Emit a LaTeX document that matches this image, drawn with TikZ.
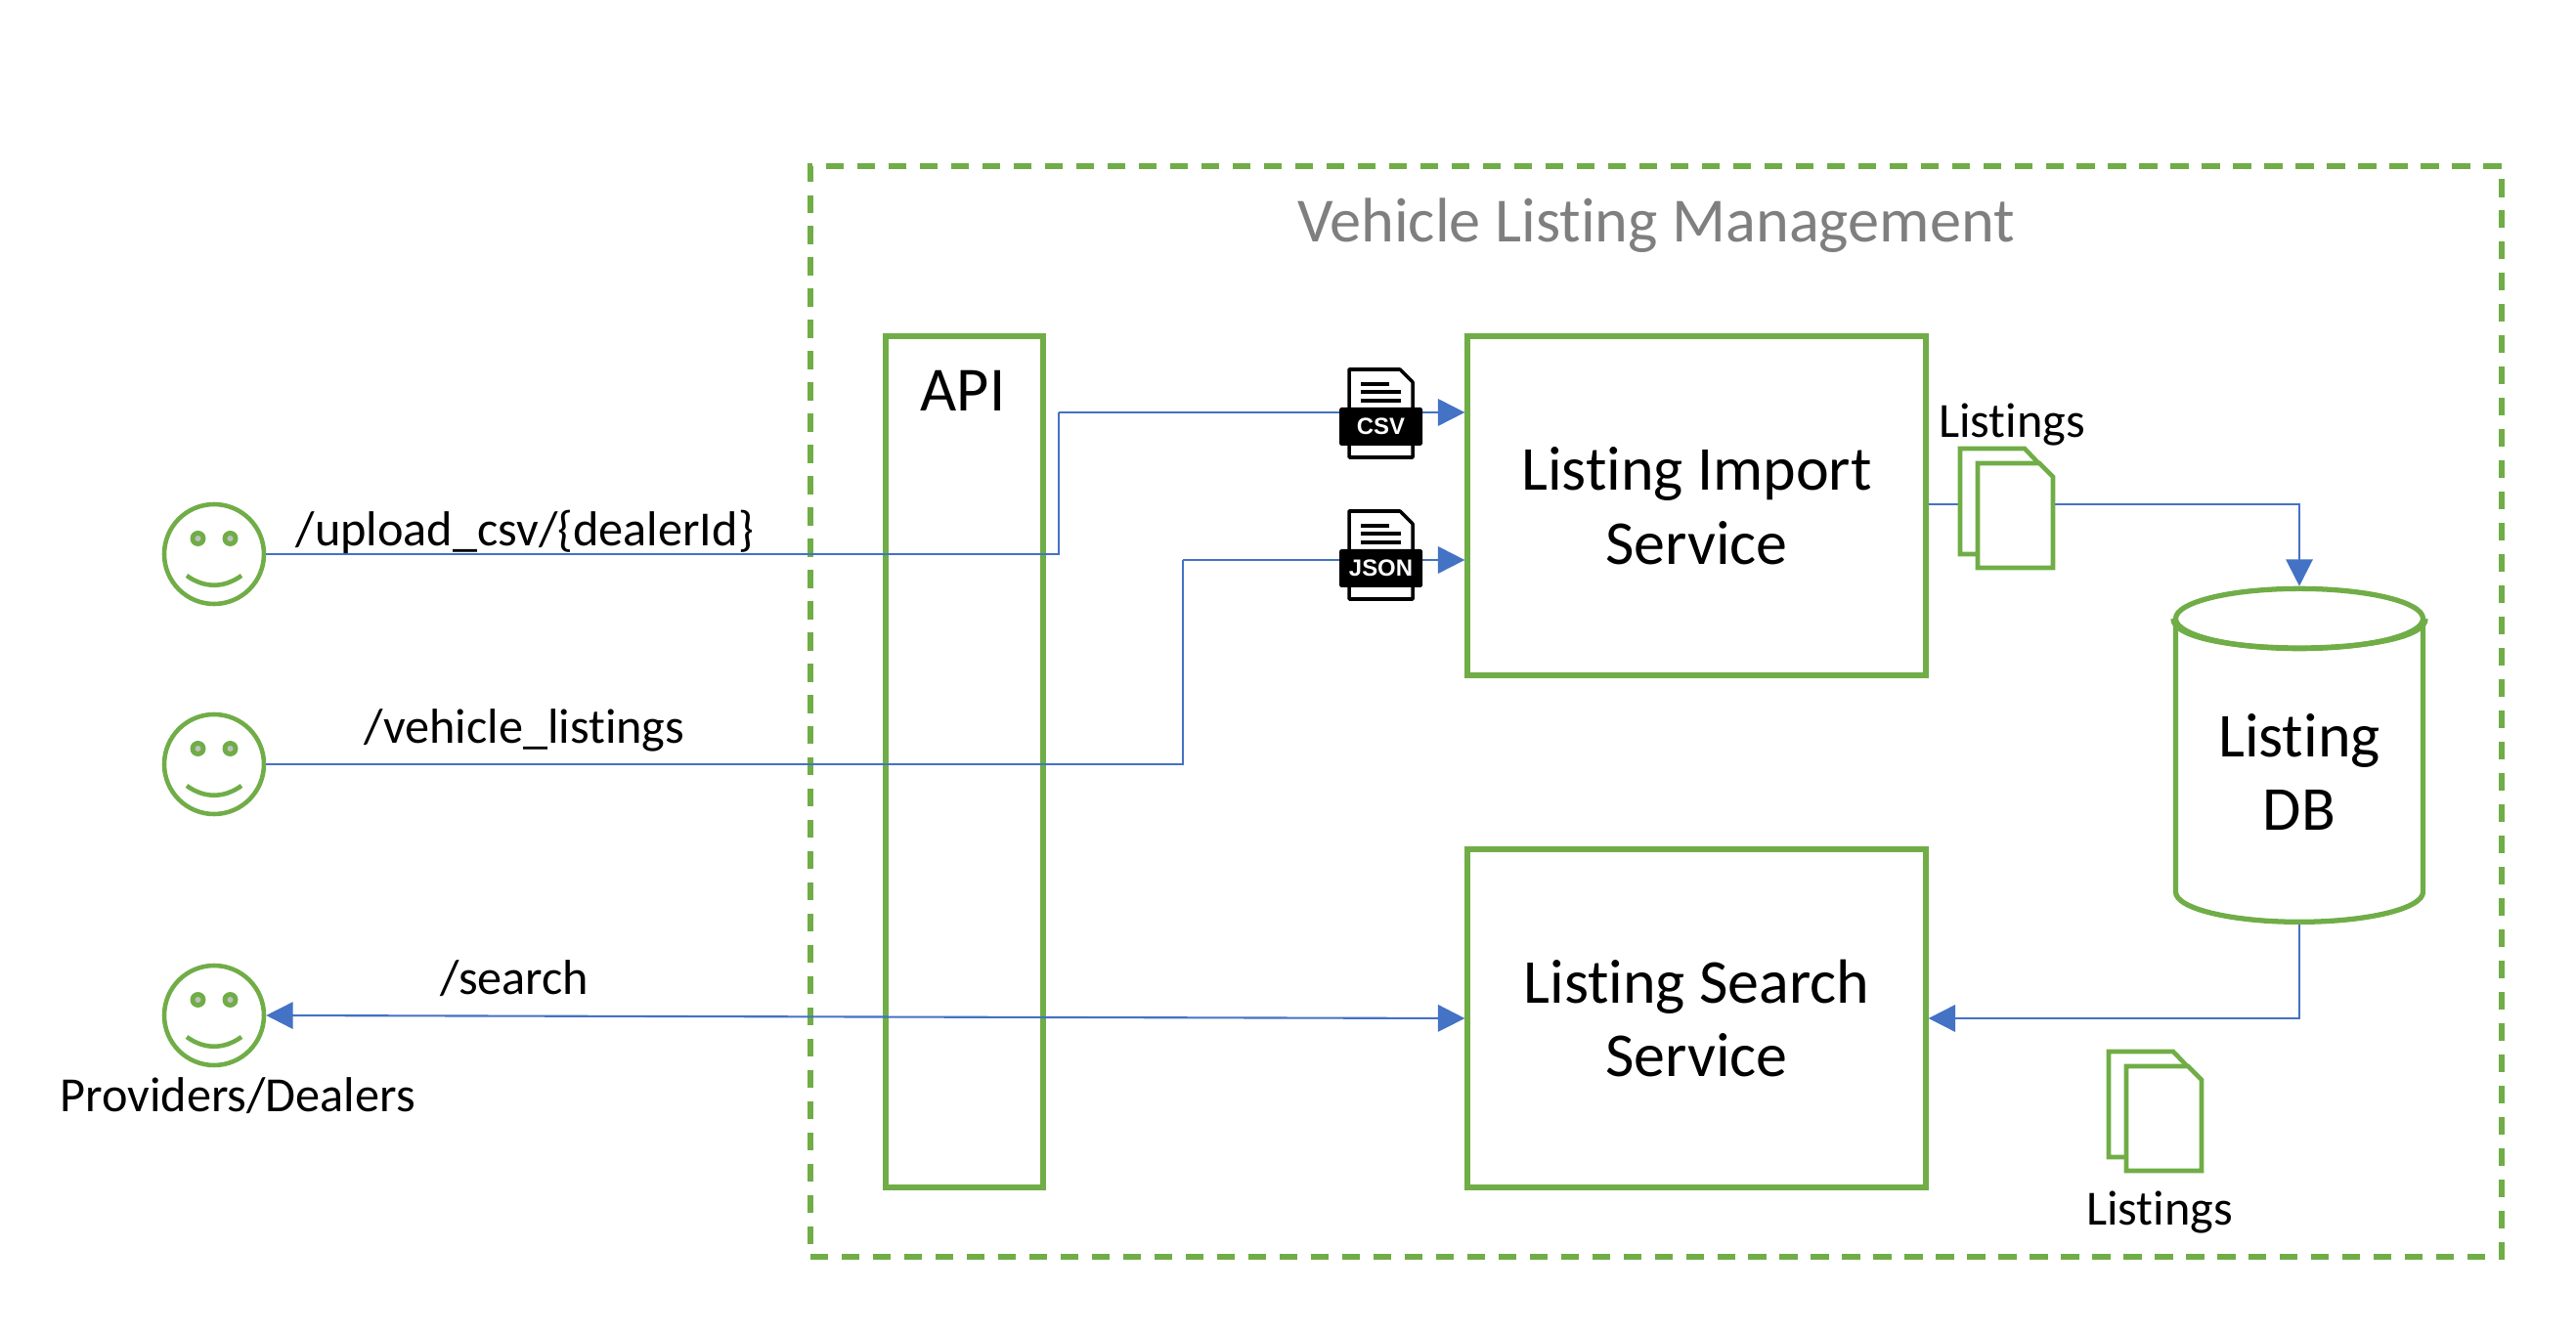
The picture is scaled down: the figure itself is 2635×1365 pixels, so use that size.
\documentclass[tikz,border=0pt]{standalone}
\usepackage{fontspec}
\setmainfont[Ligatures=NoCommon]{Carlito}
\newfontfamily\tagfont{Liberation Sans}
\usepackage{tikz}
\usetikzlibrary{arrows.meta,positioning,shapes.geometric}
\definecolor{LMgreen}{HTML}{70AD47}
\definecolor{LMblue}{HTML}{4472C4}
\definecolor{LMgray}{HTML}{7F7F7F}

\begin{document}
\begin{tikzpicture}[x=0.1mm, y=-0.1mm,
        box/.style={rectangle, draw=LMgreen, line width=1.5pt, fill=white,
                    align=center, font=\fontsize{18.2}{21.6}\selectfont},
        arr/.style={-{Triangle[length=7.8pt,width=7.8pt]}, LMblue, line width=0.6pt},
        biarr/.style={{Triangle[length=7.8pt,width=7.8pt]}-{Triangle[length=7.8pt,width=7.8pt]}, LMblue, line width=0.6pt},
        plain/.style={LMblue, line width=0.6pt},
        face/.style={circle, draw=LMgreen, line width=1.3pt, fill=white,
                     minimum size=1.02cm, inner sep=0pt},
        lbl/.style={font=\fontsize{14.3}{17}\selectfont, inner sep=0pt},
        docsheet/.style={draw=LMgreen, line width=1.3pt, fill=white},
        filetag/.style={fill=black, text=white, rounded corners=0.5pt, inner sep=0pt,
                        minimum width=0.85cm, minimum height=0.39cm,
                        font=\tagfont\fontsize{6.8}{8}\selectfont\bfseries},
      ]
      \useasboundingbox (0,0) rectangle (2635,1365);

      % system boundary
      \node[draw=LMgreen, line width=1.5pt, dash pattern=on 5.2pt off 3.9pt,
            minimum width=17.30cm, minimum height=11.16cm, inner sep=0pt] (sys) at (1694,728) {};
      \node[font=\fontsize{18.3}{22}\selectfont, text=LMgray] (title) at (1694,231) {Vehicle Listing Management};

      % services
      \node[box, minimum width=1.61cm, minimum height=8.71cm, inner sep=0pt] (api) at (986.5,779.5) {};
      \node[font=\fontsize{18.3}{22}\selectfont] (apilbl) at (985,400) {API};
      \node[box, minimum width=4.69cm, minimum height=3.47cm] (import) at (1735.5,517.5) {Listing Import\\Service};
      \node[box, minimum width=4.69cm, minimum height=3.46cm] (search) at (1735.5,1042) {Listing Search\\Service};
      \node[cylinder, shape border rotate=90, aspect=0.37, draw=LMgreen, line width=1.5pt, fill=white,
            minimum width=2.53cm, minimum height=3.41cm, inner sep=0pt,
            font=\fontsize{18.2}{21.6}\selectfont] (db) at (2352,789.5) {\phantom{Listing}};
      \draw[LMgreen, line width=1.5pt] (db.before top)
        .. controls ([yshift=-0.4cm]db.before top) and ([yshift=-0.4cm]db.after top) .. (db.after top);
      \node[font=\fontsize{18.2}{21.6}\selectfont, align=center] (dblbl) at (2352,790) {Listing\\DB};

      % actors
      \node[face] (dealerA) at (219,567) {};
      \node[face] (dealerB) at (219,782) {};
      \node[face] (dealerC) at (219,1039) {};
      \foreach \who in {dealerA,dealerB,dealerC} {
        \fill[LMgreen] ([shift={(-16.5,-16)}]\who.center) circle (0.08cm);
        \fill[LMgreen] ([shift={(16.5,-16)}]\who.center) circle (0.08cm);
        \fill[black!25] ([shift={(-16.5,-16)}]\who.center) circle (0.03cm);
        \fill[black!25] ([shift={(16.5,-16)}]\who.center) circle (0.03cm);
        \draw[LMgreen, line width=1.3pt] ([shift={(-28,22)}]\who.center)
          .. controls ([shift={(-10,35)}]\who.center) and ([shift={(10,35)}]\who.center) .. ([shift={(28,22)}]\who.center);
      }

      % connectors
      \coordinate (csvin) at (import.west |- 0,422);
      \coordinate (jsonin) at (import.west |- 0,573);
      \coordinate (csvbend) at (1083,422);
      \coordinate (jsonbend) at (1210,573);
      \draw[plain] (dealerA.east) -- (dealerA.east -| csvbend) -- (csvbend);
      \draw[arr] (csvbend) -- (csvin);
      \draw[plain] (dealerB.east) -- (dealerB.east -| jsonbend) -- (jsonbend);
      \draw[arr] (jsonbend) -- (jsonin);
      \draw[biarr] (dealerC.east) -- (search.west);
      \draw[arr] (import.east |- 0,516) -| (db.north);
      \draw[arr] (db.south) |- (search.east);

      % file icons
      \foreach \tagname/\tagtext/\iy in {csvtag/CSV/0,jsontag/JSON/145} {
        \draw[black, line width=1pt, fill=white, line join=round] (1380,\iy+378) -- (1432,\iy+378) -- (1445,\iy+391) -- (1445,\iy+468) -- (1380,\iy+468) -- cycle;
        \draw[black, line width=0.9pt] (1392,\iy+393) -- (1421,\iy+393) (1392,\iy+401) -- (1433,\iy+401) (1392,\iy+410) -- (1433,\iy+410);
        \node[filetag] (\tagname) at (1412.5,\iy+436.5) {\tagtext};
      }

      % listing documents
      \foreach \dx/\dy in {0/0,152/617} {
        \draw[docsheet] (\dx+2005,\dy+459) -- (\dx+2071,\dy+459) -- (\dx+2092,\dy+481) -- (\dx+2092,\dy+567) -- (\dx+2005,\dy+567) -- cycle;
        \draw[docsheet] (\dx+2023,\dy+474) -- (\dx+2086,\dy+474) -- (\dx+2100,\dy+488) -- (\dx+2100,\dy+581) -- (\dx+2023,\dy+581) -- cycle;
      }

      % labels
      \node[lbl, anchor=base west] (uplbl) at (302,559) {/upload\_csv/\{dealerId\}};
      \node[lbl, anchor=base west] (vllbl) at (372,761) {/vehicle\_listings};
      \node[lbl, anchor=base west] (srlbl) at (450,1018) {/search};
      \node[lbl, anchor=base] (provlbl) at (243,1138) {Providers/Dealers};
      \node[lbl, anchor=base] (lstA) at (2058,448) {Listings};
      \node[lbl, anchor=base] (lstB) at (2209,1253) {Listings};
\end{tikzpicture}
\end{document}
